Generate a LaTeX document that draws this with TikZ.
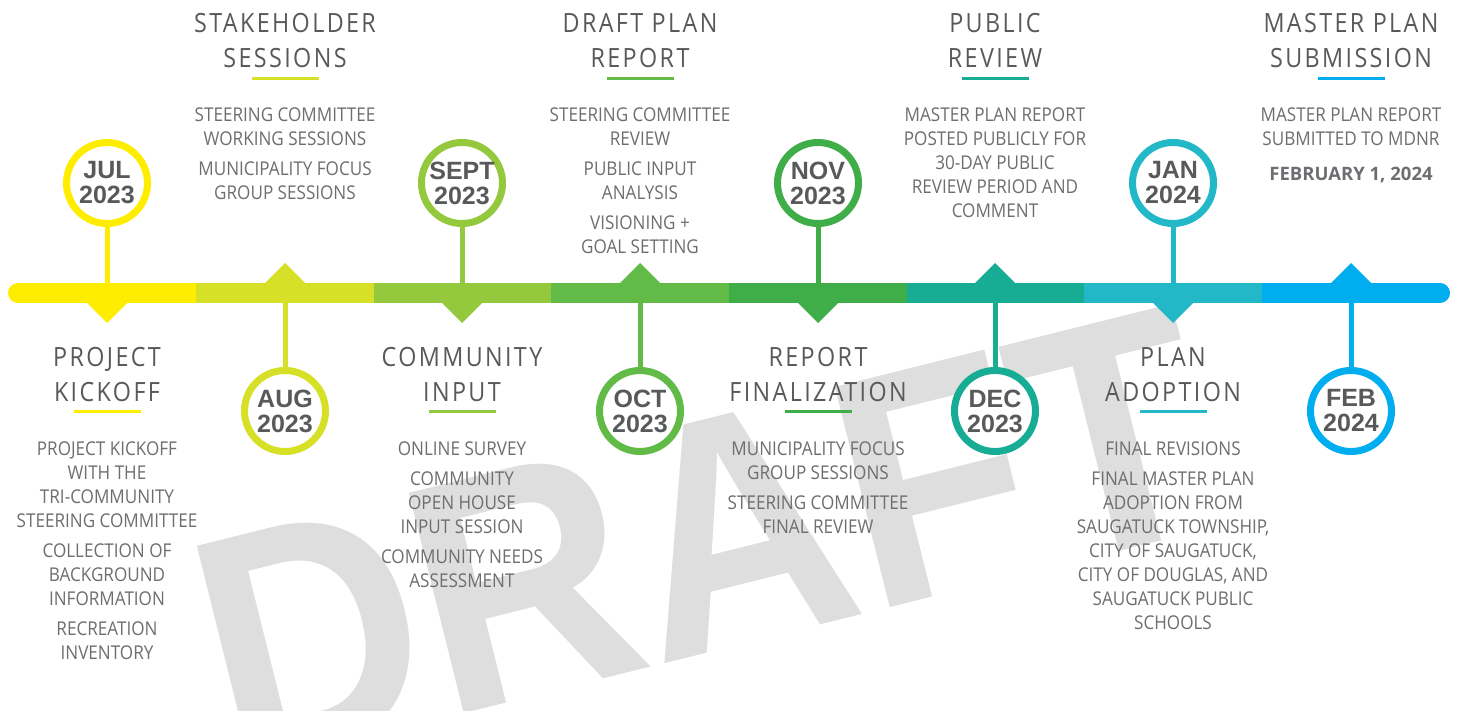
\documentclass[tikz,border=0pt]{standalone}
\usepackage{fontspec}
\setmainfont{Open Sans}
\newfontfamily\headfont{Open Sans}[LetterSpace=9,FakeStretch=0.88]
\newfontfamily\bodyfont{Open Sans}[FakeStretch=0.9]
\newfontfamily\datefont{Liberation Sans}
\newfontfamily\draftfont{Liberation Sans}[FakeStretch=0.92]

\definecolor{txtdark}{HTML}{58595B}
\definecolor{txtbody}{HTML}{6D6E71}
\definecolor{wmark}{HTML}{DEDEDE}
\definecolor{cjul}{HTML}{FFED00}
\definecolor{caug}{HTML}{D5E027}
\definecolor{csep}{HTML}{94C83D}
\definecolor{coct}{HTML}{63BB47}
\definecolor{cnov}{HTML}{3FAE49}
\definecolor{cdec}{HTML}{17AD94}
\definecolor{cjan}{HTML}{23B8C7}
\definecolor{cfeb}{HTML}{00AEEF}

\tikzset{
  datering/.style={circle, draw=#1, line width=7pt, fill=white, minimum size=81pt,
    inner sep=0pt, text=txtdark, align=center,
    font=\datefont\bfseries\fontsize{25}{25}\selectfont},
  stem/.style={draw=#1, line width=5pt},
  barseg/.style={draw=#1, line width=20pt},
  heading/.style={anchor=north, inner sep=0pt, text=txtdark, align=center,
    font=\headfont\fontsize{26.5}{35}\selectfont},
  hline/.style={draw=#1, line width=3pt},
  notes/.style={anchor=north, inner sep=0pt, text=txtbody, align=center,
    font=\bodyfont\fontsize{19}{24}\selectfont}
}

\begin{document}
\begin{tikzpicture}[x=1pt, y=-1pt]
  \useasboundingbox (0,0) rectangle (1460,711);
  \fill[white] (0,0) rectangle (1460,711);

  % watermark behind everything
  \node[anchor=base west, rotate=14, inner sep=0pt, text=wmark,
    font=\draftfont\bfseries\fontsize{330}{330}\selectfont] (draft) at (232,772) {DRAFT};

  % points on the bar
  \coordinate (barL) at (18,293);
  \coordinate (barR) at (1440,293);
  \coordinate (pjul) at (107,293);
  \coordinate (paug) at (285,293);
  \coordinate (psep) at (462,293);
  \coordinate (poct) at (640,293);
  \coordinate (pnov) at (818,293);
  \coordinate (pdec) at (995,293);
  \coordinate (pjan) at (1173,293);
  \coordinate (pfeb) at (1351,293);

  % month circles
  \node[datering=cjul] (jul) at (107,183) {JUL\\2023};
  \node[datering=caug] (aug) at (285,411) {AUG\\2023};
  \node[datering=csep] (sep) at (462,183) {SEPT\\2023};
  \node[datering=coct] (oct) at (640,411) {OCT\\2023};
  \node[datering=cnov] (nov) at (818,183) {NOV\\2023};
  \node[datering=cdec] (dec) at (995,411) {DEC\\2023};
  \node[datering=cjan] (jan) at (1173,183) {JAN\\2024};
  \node[datering=cfeb] (feb) at (1351,411) {FEB\\2024};

  \draw[stem=cjul] (jul) -- (pjul);
  \draw[stem=caug] (aug) -- (paug);
  \draw[stem=csep] (sep) -- (psep);
  \draw[stem=coct] (oct) -- (poct);
  \draw[stem=cnov] (nov) -- (pnov);
  \draw[stem=cdec] (dec) -- (pdec);
  \draw[stem=cjan] (jan) -- (pjan);
  \draw[stem=cfeb] (feb) -- (pfeb);

  % the bar
  \draw[barseg=cjul, line cap=round] (barL) -- (196,293);
  \draw[barseg=cfeb, line cap=round] (1262,293) -- (barR);
  \draw[barseg=caug] (196,293) -- (373.5,293);
  \draw[barseg=csep] (373.5,293) -- (551,293);
  \draw[barseg=coct] (551,293) -- (729,293);
  \draw[barseg=cnov] (729,293) -- (906.5,293);
  \draw[barseg=cdec] (906.5,293) -- (1084,293);
  \draw[barseg=cjan] (1084,293) -- (1262,293);

  % pointers
  \fill[cjul] (pjul) ++(-21,9) -- ++(42,0) -- ++(-21,21) -- cycle;
  \fill[caug] (paug) ++(-21,-9) -- ++(42,0) -- ++(-21,-21) -- cycle;
  \fill[csep] (psep) ++(-21,9) -- ++(42,0) -- ++(-21,21) -- cycle;
  \fill[coct] (poct) ++(-21,-9) -- ++(42,0) -- ++(-21,-21) -- cycle;
  \fill[cnov] (pnov) ++(-21,9) -- ++(42,0) -- ++(-21,21) -- cycle;
  \fill[cdec] (pdec) ++(-21,-9) -- ++(42,0) -- ++(-21,-21) -- cycle;
  \fill[cjan] (pjan) ++(-21,9) -- ++(42,0) -- ++(-21,21) -- cycle;
  \fill[cfeb] (pfeb) ++(-21,-9) -- ++(42,0) -- ++(-21,-21) -- cycle;

  % headings
  \node[heading] (hkick) at (107,347) {PROJECT\\KICKOFF};
  \node[heading] (hstake) at (285,13) {STAKEHOLDER\\SESSIONS};
  \node[heading] (hinput) at (462,347) {COMMUNITY\\INPUT};
  \node[heading] (hdraft) at (640,13) {DRAFT PLAN\\REPORT};
  \node[heading] (hfinal) at (818,347) {REPORT\\FINALIZATION};
  \node[heading] (hreview) at (995,13) {PUBLIC\\REVIEW};
  \node[heading] (hadopt) at (1173,347) {PLAN\\ADOPTION};
  \node[heading] (hsubmit) at (1351,13) {MASTER PLAN\\SUBMISSION};

  \draw[hline=cjul] (hkick.south) ++(-33.5,10) -- ++(67,0);
  \draw[hline=caug] (hstake.south) ++(-33.5,11) -- ++(67,0);
  \draw[hline=csep] (hinput.south) ++(-33.5,10) -- ++(67,0);
  \draw[hline=coct] (hdraft.south) ++(-33.5,11) -- ++(67,0);
  \draw[hline=cnov] (hfinal.south) ++(-33.5,10) -- ++(67,0);
  \draw[hline=cdec] (hreview.south) ++(-33.5,11) -- ++(67,0);
  \draw[hline=cjan] (hadopt.south) ++(-33.5,10) -- ++(67,0);
  \draw[hline=cfeb] (hsubmit.south) ++(-33.5,11) -- ++(67,0);

  % notes
  \node[notes] (nkick) at (107,441.5) {PROJECT KICKOFF\\WITH THE\\TRI-COMMUNITY\\STEERING COMMITTEE\\[6pt]COLLECTION OF\\BACKGROUND\\INFORMATION\\[6pt]RECREATION\\INVENTORY};
  \node[notes] (nstake) at (285,107.5) {STEERING COMMITTEE\\WORKING SESSIONS\\[6pt]MUNICIPALITY FOCUS\\GROUP SESSIONS};
  \node[notes] (ninput) at (462,441.5) {ONLINE SURVEY\\[6pt]COMMUNITY\\OPEN HOUSE\\INPUT SESSION\\[6pt]COMMUNITY NEEDS\\ASSESSMENT};
  \node[notes] (ndraft) at (640,107.5) {STEERING COMMITTEE\\REVIEW\\[6pt]PUBLIC INPUT\\ANALYSIS\\[6pt]VISIONING +\\GOAL SETTING};
  \node[notes] (nfinal) at (818,441.5) {MUNICIPALITY FOCUS\\GROUP SESSIONS\\[6pt]STEERING COMMITTEE\\FINAL REVIEW};
  \node[notes] (nreview) at (995,107.5) {MASTER PLAN REPORT\\POSTED PUBLICLY FOR\\30-DAY PUBLIC\\REVIEW PERIOD AND\\COMMENT};
  \node[notes] (nadopt) at (1173,441.5) {FINAL REVISIONS\\[6pt]FINAL MASTER PLAN\\ADOPTION FROM\\SAUGATUCK TOWNSHIP,\\CITY OF SAUGATUCK,\\CITY OF DOUGLAS, AND\\SAUGATUCK PUBLIC\\SCHOOLS};
  \node[notes] (nsubmit) at (1351,107.5) {MASTER PLAN REPORT\\SUBMITTED TO MDNR\\[11pt]{\setmainfont{Open Sans}\normalfont\bfseries\fontsize{18.5}{24}\selectfont FEBRUARY 1, 2024}};
\end{tikzpicture}
\end{document}
